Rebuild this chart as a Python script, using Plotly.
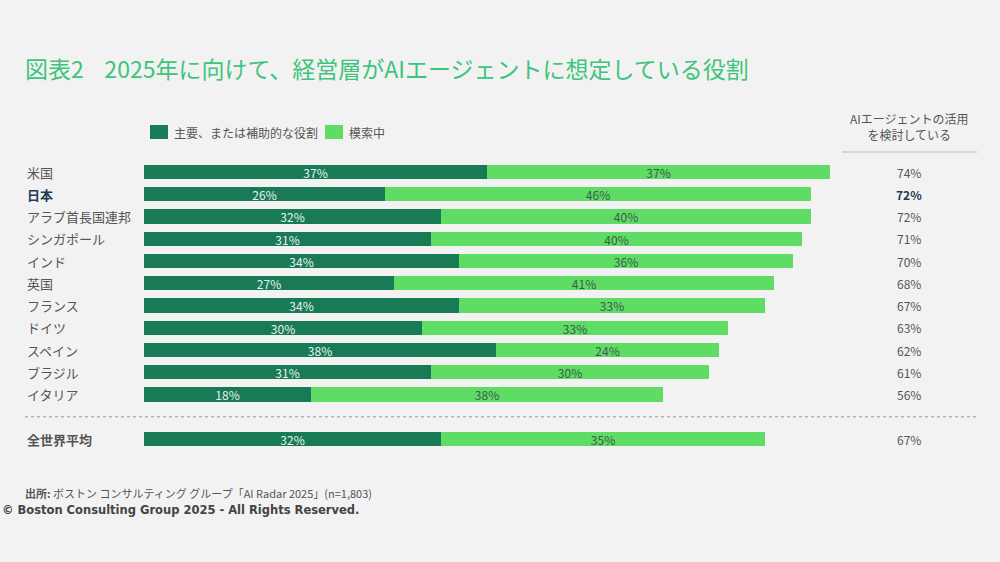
import plotly.graph_objects as go

countries = ["米国", "日本", "アラブ首長国連邦", "シンガポール", "インド", "英国", "フランス",
             "ドイツ", "スペイン", "ブラジル", "イタリア", "全世界平均"]
primary = [37, 26, 32, 31, 34, 27, 34, 30, 38, 31, 18, 32]
exploring = [37, 46, 40, 40, 36, 41, 33, 33, 24, 30, 38, 35]
totals = [74, 72, 72, 71, 70, 68, 67, 63, 62, 61, 56, 67]
row_pos = [0, 1, 2, 3, 4, 5, 6, 7, 8, 9, 10, 12]

DARK = "#197a56"
LIGHT = "#5edc64"
BG = "#f2f2f2"
FONT = "Noto Sans CJK JP"

fig = go.Figure()
fig.add_trace(go.Bar(
    y=row_pos, x=primary, orientation="h", marker=dict(color=DARK, line=dict(width=0)),
    width=0.63, text=[f"{v}%" for v in primary], textposition="inside",
    insidetextanchor="middle", textfont=dict(color="#e8f2ec", size=12, family=FONT),
    name="主要、または補助的な役割", showlegend=False, hoverinfo="skip"))
fig.add_trace(go.Bar(
    y=row_pos, x=exploring, orientation="h", marker=dict(color=LIGHT, line=dict(width=0)),
    width=0.63, text=[f"{v}%" for v in exploring], textposition="inside",
    insidetextanchor="middle", textfont=dict(color="#3d5a50", size=12, family=FONT),
    name="模索中", showlegend=False, hoverinfo="skip"))

ann = []
shapes = []
# country labels
for c, y in zip(countries, row_pos):
    bold = c in ("日本", "全世界平均")
    color = "#1f3b57" if c == "日本" else "#555555"
    ann.append(dict(x=0.025, xref="paper", xanchor="left", y=y, yref="y", yanchor="middle",
                    text=f"<b>{c}</b>" if bold else c, showarrow=False,
                    font=dict(size=13, color=color, family=FONT)))
# totals
for t, y, c in zip(totals, row_pos, countries):
    bold = c == "日本"
    ann.append(dict(x=0.909, xref="paper", xanchor="center", y=y, yref="y", yanchor="middle",
                    text=f"<b>{t}%</b>" if bold else f"{t}%", showarrow=False,
                    font=dict(size=12, color="#1f3b57" if bold else "#555555", family=FONT)))

# title
ann.append(dict(x=0.023, xref="paper", xanchor="left", y=1 - 68 / 562, yref="paper", yanchor="middle",
                text="図表2\u00a0\u00a0\u00a0\u00a02025年に向けて、経営層がAIエージェントに想定している役割",
                showarrow=False, font=dict(size=23, color="#3ec47b", family=FONT)))
# header of totals
ann.append(dict(x=0.909, xref="paper", xanchor="center", y=1 - 126 / 562, yref="paper", yanchor="middle",
                text="AIエージェントの活用<br>を検討している", showarrow=False,
                font=dict(size=12, color="#555555", family=FONT)))
shapes.append(dict(type="line", xref="paper", yref="paper", x0=0.842, x1=0.977,
                   y0=1 - 152 / 562, y1=1 - 152 / 562, line=dict(color="#bbbbbb", width=1)))
# legend
shapes.append(dict(type="rect", xref="paper", yref="paper", x0=0.150, x1=0.168,
                   y0=1 - 139 / 562, y1=1 - 125 / 562, fillcolor=DARK, line=dict(width=0)))
ann.append(dict(x=0.172, xref="paper", xanchor="left", y=1 - 132 / 562, yref="paper", yanchor="middle",
                text="主要、または補助的な役割", showarrow=False,
                font=dict(size=12, color="#555555", family=FONT)))
shapes.append(dict(type="rect", xref="paper", yref="paper", x0=0.325, x1=0.343,
                   y0=1 - 139 / 562, y1=1 - 125 / 562, fillcolor=LIGHT, line=dict(width=0)))
ann.append(dict(x=0.347, xref="paper", xanchor="left", y=1 - 132 / 562, yref="paper", yanchor="middle",
                text="模索中", showarrow=False, font=dict(size=12, color="#555555", family=FONT)))
# dotted separator
shapes.append(dict(type="line", xref="paper", yref="y", x0=0.025, x1=0.978, y0=11, y1=11,
                   line=dict(color="#999999", width=1, dash="dot")))
# footer
ann.append(dict(x=0.023, xref="paper", xanchor="left", y=1 - 493 / 562, yref="paper", yanchor="middle",
                text="<b>出所:</b> ボストン コンサルティング グループ「AI Radar 2025」(n=1,803)",
                showarrow=False, font=dict(size=11, color="#555555", family=FONT)))
ann.append(dict(x=0.0, xref="paper", xanchor="left", y=1 - 510 / 562, yref="paper", yanchor="middle",
                text="<b>© Boston Consulting Group 2025 - All Rights Reserved.</b>",
                showarrow=False, font=dict(size=11.5, color="#444444", family="DejaVu Sans")))

px_per = 686 / 74.0
xmax = (1000 - 144) / px_per
row_px = 22.25
fig.update_layout(
    width=1000, height=562, barmode="stack", bargap=0,
    paper_bgcolor=BG, plot_bgcolor=BG,
    margin=dict(l=0, r=0, t=0, b=0),
    xaxis=dict(domain=[0.144, 1], range=[0, xmax], visible=False, fixedrange=True),
    yaxis=dict(range=[(562 - 172) / row_px, -172 / row_px], visible=False, fixedrange=True),
    annotations=ann, shapes=shapes,
    uniformtext=dict(mode="show", minsize=8),
    font=dict(family=FONT),
)
fig.write_html("out.html", config={"displayModeBar": False},
               post_script="document.body.style.margin='0';document.body.style.background='#f2f2f2';document.body.style.overflow='hidden';")
